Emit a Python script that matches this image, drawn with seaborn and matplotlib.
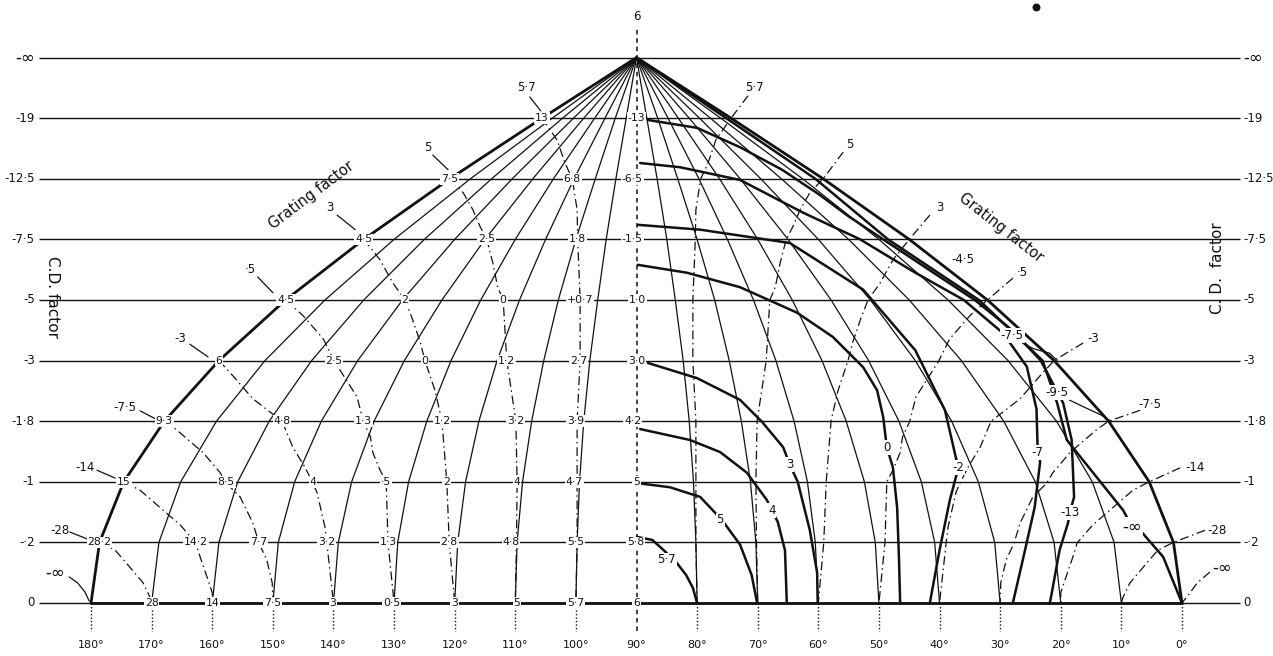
import matplotlib
matplotlib.use("Agg")
import matplotlib.pyplot as plt
import seaborn as sns
import pandas as pd

sns.set_theme(style="white")
plt.rcParams['font.family'] = ['DejaVu Sans']

# ---- C.D. factor rows (equally spaced) ----
row_levels = [0, 1, 2, 3, 4, 5, 6, 7, 8, 9]
row_labels = ["0", "-·2", "-1", "-1·8", "-3", "-5", "-7·5", "-12·5", "-19", "-∞"]

# ---- angle scale along the base ----
angles = [180, 170, 160, 150, 140, 130, 120, 110, 100, 90, 80, 70, 60, 50, 40, 30, 20, 10, 0]
angle_labels = [f"{a}°" for a in angles]

# ---- angle curves (x in degrees at each row 0..9) ----
left_angle_curves = {
    180: [180, 178.6, 174.6, 167.9, 158.9, 147.9, 135.0, 120.8, 105.6, 90],
    170: [170, 168.8, 165.2, 159.3, 151.3, 141.4, 130.0, 117.4, 103.9, 90],
    160: [160, 158.9, 155.8, 150.6, 143.6, 135.0, 125.0, 113.9, 102.2, 90],
    150: [150, 149.1, 146.4, 142.0, 136.0, 128.6, 120.0, 110.5, 100.4, 90],
    140: [140, 139.2, 137.0, 133.3, 128.3, 122.1, 115.0, 107.1, 98.7, 90],
    130: [130, 129.4, 127.6, 124.6, 120.6, 115.7, 110.0, 103.7, 96.9, 90],
    120: [120, 119.5, 118.2, 116.0, 113.0, 109.3, 105.0, 100.3, 95.2, 90],
    110: [110, 109.7, 108.8, 107.3, 105.3, 102.9, 100.0, 96.8, 93.5, 90],
    100: [100, 99.8, 99.4, 98.7, 97.7, 96.4, 95.0, 93.4, 91.7, 90],
}
right_angle_curves = {
    0: [0, 1.4, 5.4, 12.1, 21.1, 32.1, 45.0, 59.2, 74.4, 90],
    10: [10, 11.2, 14.8, 20.7, 28.7, 38.6, 50.0, 62.6, 76.1, 90],
    20: [20, 21.1, 24.2, 29.4, 36.4, 45.0, 55.0, 66.1, 77.8, 90],
    30: [30, 30.9, 33.6, 38.0, 44.0, 51.4, 60.0, 69.5, 79.6, 90],
    40: [40, 40.8, 43.0, 46.7, 51.7, 57.9, 65.0, 72.9, 81.3, 90],
    50: [50, 50.6, 52.4, 55.4, 59.4, 64.3, 70.0, 76.3, 83.1, 90],
    60: [60, 60.5, 61.8, 64.0, 67.0, 70.7, 75.0, 79.7, 84.8, 90],
    70: [70, 70.3, 71.2, 72.7, 74.7, 77.1, 80.0, 83.2, 86.5, 90],
    80: [80, 80.2, 80.6, 81.3, 82.3, 83.6, 85.0, 86.6, 88.3, 90],
}

# ---- grating-factor curves, left half: (x list, row list) ----
left_grating = {
    100: ([105.6, 103.1, 101.8, 100.6, 99.8, 99.7, 99.3, 99.3, 99.8, 99.8, 99.8, 100.0],
          [8, 7.64, 7.26, 7, 6.49, 6, 5, 4, 3, 2, 1, 0]),
    110: ([120.8, 118.6, 117.0, 115.8, 114.7, 113.7, 112.9, 112.0, 111.4, 109.9, 109.7, 109.8, 110.0],
          [7, 6.77, 6.49, 6.21, 6, 5.61, 5.21, 5, 4, 3, 2, 1, 0]),
    120: ([135.0, 132.3, 130.2, 128.2, 127.0, 125.7, 124.9, 123.2, 122.1, 121.3, 120.9, 120.0],
          [6, 5.66, 5.28, 5, 4.69, 4.31, 4, 3.49, 3, 2, 1, 0]),
    130: ([147.9, 145.0, 141.7, 139.9, 138.9, 136.1, 135.1, 133.9, 133.5, 132.3, 131.3, 131.0, 130.0],
          [5, 4.74, 4.36, 4, 3.84, 3.40, 3, 2.74, 2.48, 2.19, 2, 1, 0]),
    140: ([158.9, 156.6, 153.3, 148.5, 146.7, 144.7, 143.4, 142.7, 141.4, 141.1, 140.0],
          [4, 3.75, 3.37, 3, 2.57, 2.24, 1.98, 1.82, 1.25, 1, 0]),
    150: ([167.9, 165.8, 161.5, 158.7, 157.7, 155.4, 153.3, 152.3, 151.0, 150.1, 150.0],
          [3, 2.85, 2.48, 2.15, 1.98, 1.75, 1.32, 0.99, 0.71, 0.33, 0]),
    160: ([174.6, 171.9, 168.1, 165.3, 162.7, 162.0, 160.7, 160.0, 160.0],
          [2, 1.86, 1.53, 1.29, 0.99, 0.76, 0.38, 0.17, 0]),
    170: ([178.6, 176.0, 173.6, 171.4, 170.3, 170.0],
          [1, 0.87, 0.59, 0.33, 0.10, 0]),
}

# ---- grating-factor curves, right half (run out to their labels) ----
right_grating = {
    80: ([71.6, 74.4, 76.9, 78.2, 79.4, 80.2, 80.3, 80.7, 80.7, 80.2, 80.2, 80.2, 80.0],
         [8.37, 8, 7.64, 7.26, 7, 6.49, 6, 5, 4, 3, 2, 1, 0]),
    70: ([55.9, 59.2, 61.4, 63.0, 64.2, 65.3, 66.3, 67.1, 68.0, 68.6, 70.1, 70.3, 70.2, 70.0],
         [7.44, 7, 6.77, 6.49, 6.21, 6, 5.61, 5.21, 5, 4, 3, 2, 1, 0]),
    60: ([41.6, 45.0, 47.7, 49.8, 51.8, 53.0, 54.3, 55.1, 56.8, 57.9, 58.7, 59.1, 60.0],
         [6.40, 6, 5.66, 5.28, 5, 4.69, 4.31, 4, 3.49, 3, 2, 1, 0]),
    50: ([27.9, 32.1, 35.0, 38.3, 40.1, 41.1, 43.9, 44.9, 46.1, 46.5, 47.7, 48.7, 49.0, 50.0],
         [5.36, 5, 4.74, 4.36, 4, 3.84, 3.40, 3, 2.74, 2.48, 2.19, 2, 1, 0]),
    40: ([16.3, 21.1, 23.4, 26.7, 31.5, 33.3, 35.3, 36.6, 37.3, 38.6, 38.9, 40.0],
         [4.29, 4, 3.75, 3.37, 3, 2.57, 2.24, 1.98, 1.82, 1.25, 1, 0]),
    30: ([6.9, 12.1, 14.2, 18.5, 21.3, 22.3, 24.6, 26.7, 27.7, 29.0, 29.9, 30.0],
         [3.18, 3, 2.85, 2.48, 2.15, 1.98, 1.75, 1.32, 0.99, 0.71, 0.33, 0]),
    20: ([0.3, 5.4, 8.1, 11.9, 14.7, 17.3, 18.0, 19.3, 20.0, 20.0],
         [2.23, 2, 1.86, 1.53, 1.29, 0.99, 0.76, 0.38, 0.17, 0]),
    10: ([-3.8, 1.4, 4.0, 6.4, 8.6, 9.7, 10.0],
         [1.20, 1, 0.87, 0.59, 0.33, 0.10, 0]),
    0: ([-4.6, -2.5, -1.2, 0.0],
        [0.51, 0.33, 0.15, 0]),
}

# ---- C.D. contours on the right half: (x list, row list) ----
cd_contours = {
    "5·7": ([89.9, 87.4, 85.5, 83.5, 81.8, 80.7, 80.0],
            [1.09, 1.04, 0.87, 0.68, 0.46, 0.25, 0]),
    "5": ([90.0, 84.5, 79.5, 75.9, 72.9, 71.0, 70.1],
          [1.98, 1.91, 1.75, 1.37, 0.96, 0.46, 0]),
    "4": ([89.4, 81.2, 76.2, 71.8, 68.5, 67.7, 66.7, 65.5, 65.2],
          [2.87, 2.69, 2.49, 2.15, 1.70, 1.53, 1.34, 0.87, 0]),
    "3": ([88.1, 80.0, 72.9, 69.3, 65.8, 64.7, 63.4, 61.4, 60.2, 60.1],
          [3.96, 3.71, 3.35, 2.99, 2.57, 2.28, 2.0, 1.2, 0.5, 0]),
    "0": ([89.8, 81.7, 72.9, 63.5, 57.6, 52.6, 50.3, 49.3, 48.7, 47.7, 47.0, 46.7, 46.5],
          [5.58, 5.45, 5.21, 4.79, 4.39, 3.89, 3.51, 3.07, 2.57, 2.24, 1.58, 0.76, 0]),
    "-2": ([89.75, 79.5, 64.7, 52.6, 44.0, 39.1, 37.4, 36.9, 38.3, 40.0, 41.6],
           [6.24, 6.16, 5.94, 5.17, 4.17, 3.18, 2.44, 2.23, 1.70, 0.87, 0]),
    "-7": ([89.4, 82.8, 72.9, 62.5, 53.1, 44.0, 36.0, 29.5, 25.6, 24.0, 23.8, 23.4, 24.3, 25.9, 27.9],
           [7.26, 7.19, 6.98, 6.44, 6.0, 5.45, 5.0, 4.45, 3.9, 3.2, 2.49, 2.33, 1.58, 0.87, 0]),
    "-13": ([88.1, 80.0, 72.9, 66.0, 60.0, 55.0, 49.3, 41.0, 34.2, 28.0, 23.3, 19.6, 18.2, 17.8, 18.5,
             18.8, 20.2, 21.4, 21.8],
            [7.97, 7.84, 7.52, 7.15, 6.75, 6.38, 6.0, 5.45, 5.0, 4.5, 4.0, 3.3, 2.69, 1.75, 1.49,
             1.32, 0.87, 0.21, 0]),
    "-∞": ([90.0, 75.2, 60.5, 48.5, 33.5, 23.0, 20.6, 19.0, 9.7, 8.2, 6.9, 3.1, 0.0],
           [9.0, 8.0, 7.0, 6.0, 5.0, 4.0, 3.3, 2.69, 1.53, 1.25, 1.2, 0.76, 0]),
}
cd_contour_labels = [
    ("5·7", 85.0, 0.71), ("5", 76.2, 1.37), ("4", 67.7, 1.53), ("3", 64.7, 2.28),
    ("0", 48.7, 2.57), ("-2", 36.9, 2.23), ("-7", 23.8, 2.49), ("-13", 18.5, 1.49),
    ("-∞", 8.2, 1.25), ("-4·5", 36.1, 5.66), ("-7·5", 28.0, 4.42), ("-9·5", 20.6, 3.47),
]

# ---- values printed where the curves cross the rows (left half) ----
crossing_labels = [
    # along 90°
    (90.0, 0, "6"), (90.1, 1, "5·8"), (90.0, 2, "5"), (90.6, 3, "4·2"), (90.0, 4, "3·0"),
    (89.8, 5, "1·0"), (90.7, 6, "-1·5"), (90.7, 7, "-6·5"), (90.0, 8, "-13"),
    # along the outer curve
    (178.6, 1, "28·2"), (174.6, 2, "15"), (167.9, 3, "9·3"), (158.9, 4, "6"),
    (147.9, 5, "4·5"), (135.0, 6, "4·5"), (120.8, 7, "7·5"), (105.6, 8, "13"),
    # 100° curve
    (100.0, 0, "5·7"), (100.1, 1, "5·5"), (100.3, 2, "4·7"), (100.1, 3, "3·9"),
    (99.5, 4, "2·7"), (99.3, 5, "+0·7"), (99.7, 6, "1·8"), (100.6, 7, "6·8"),
    # 110° curve
    (109.7, 0, "5"), (110.7, 1, "4·8"), (109.7, 2, "4"), (109.9, 3, "3·2"),
    (111.4, 4, "1·2"), (112.0, 5, "0"), (114.7, 6, "2·5"),
    # 120° curve
    (120.0, 0, "3"), (120.9, 1, "2·8"), (121.3, 2, "2"), (122.1, 3, "1·2"),
    (124.9, 4, "0"), (128.2, 5, "2"),
    # 130° curve
    (130.4, 0, "0·5"), (131.0, 1, "1·3"), (131.3, 2, "·5"), (135.1, 3, "1·3"), (139.9, 4, "2·5"),
    # 140° curve
    (140.1, 0, "3"), (141.1, 1, "3·2"), (143.4, 2, "4"), (148.5, 3, "4·8"),
    # 150°, 160°, 170°
    (150.0, 0, "7·5"), (152.3, 1, "7·7"), (157.7, 2, "8·5"),
    (160.0, 0, "14"), (162.7, 1, "14·2"),
    (170.0, 0, "28"),
]

# ---- grating-factor names with their leaders (left) ----
left_names = [
    ("5·7", 108.1, 8.50, [107.6, 105.8], [8.35, 8.12]),
    ("5", 124.4, 7.51, [123.6, 121.1], [7.39, 7.15]),
    ("3", 140.6, 6.52, [139.4, 136.4], [6.40, 6.16]),
    ("·5", 153.8, 5.50, [152.5, 150.0], [5.38, 5.12]),
    ("-3", 165.3, 4.37, [163.7, 160.7], [4.27, 4.06]),
    ("-7·5", 174.4, 3.23, [171.9, 169.4], [3.17, 3.04]),
    ("-14", 181.0, 2.24, [179.0, 176.0], [2.19, 2.06]),
    ("-28", 185.1, 1.20, [183.5, 180.2], [1.17, 1.04]),
    ("-∞", 186.0, 0.50, [183.6, 182.2, 181.0, 180.3], [0.43, 0.33, 0.18, 0.03]),
]
right_names = [
    ("5·7", 70.5, 8.50), ("5", 54.8, 7.56), ("3", 39.9, 6.52), ("·5", 26.4, 5.46),
    ("-3", 14.7, 4.37), ("-7·5", 5.3, 3.27), ("-14", -2.2, 2.23), ("-28", -5.8, 1.20),
    ("-∞", -6.6, 0.58),
]
leaders_right = [
    ([27.2, 24.6, 21.8, 20.6], [4.34, 4.20, 4.12, 4.00]),
    ([18.6, 16.1, 13.3, 11.6], [3.35, 3.23, 3.10, 2.99]),
]

BLACK = "#111111"
fig = plt.figure(figsize=(12.73, 6.56), dpi=100)
ax = fig.add_axes([0, 0, 1, 1])
ax.set_xlim(195.02, -15.02)
ax.set_ylim(-0.875, 9.95)
ax.axis("off")

TXT = dict(color=BLACK, ha="center", va="center", zorder=6)
BOX = dict(boxstyle="square,pad=0.08", fc="white", ec="none")


def fsize(label, base):
    # the infinity sign is drawn wide, as on the printed scale
    return base + 3.5 if "∞" in label else base


def draw(xs, ys, lw=0.9, ls="-", dashes=None, z=3):
    df = pd.DataFrame({"x": xs, "y": ys})
    kw = dict(color=BLACK, linewidth=lw, zorder=z)
    if dashes is not None:
        kw["dashes"] = dashes
    else:
        kw["linestyle"] = ls
    sns.lineplot(data=df, x="x", y="y", sort=False, estimator=None, ax=ax, **kw)


# rows
for lv in row_levels:
    ax.plot([188.6, -9.6], [lv, lv], color=BLACK, lw=1.0, zorder=2, solid_capstyle="butt")
ax.plot([180, 0], [0, 0], color=BLACK, lw=2.0, zorder=2)
for lv, lab in zip(row_levels, row_labels):
    ax.text(189.3, lv, lab, fontsize=fsize(lab, 8.5), ha="right", va="center", color=BLACK)
    ax.text(-10.1, lv, lab, fontsize=fsize(lab, 8.5), ha="left", va="center", color=BLACK)

# base ticks and angle labels
for a, lab in zip(angles, angle_labels):
    if a != 90:
        ax.plot([a, a], [0, -0.47], color=BLACK, lw=1.0, ls=(0, (1, 1.5)), zorder=2)
    ax.text(a, -0.70, lab, fontsize=8, **TXT)
ax.plot([90, 90], [-0.47, 9.52], color=BLACK, lw=1.1, ls=(0, (3, 2.5)), zorder=2)
ax.text(90, 9.68, "6", fontsize=8.5, **TXT)

# angle curves
for a, xs in left_angle_curves.items():
    draw(xs, row_levels, lw=2.0 if a == 180 else 0.9)
for a, xs in right_angle_curves.items():
    draw(xs, row_levels, lw=2.0 if a == 0 else 0.9)

# grating-factor curves
for a, (xs, ys) in left_grating.items():
    draw(xs, ys, lw=0.9, dashes=(7, 3, 1.2, 3))
for a, (xs, ys) in right_grating.items():
    draw(xs, ys, lw=0.9, dashes=(7, 3, 1.2, 3))

# C.D. contours
for name, (xs, ys) in cd_contours.items():
    draw(xs, ys, lw=1.8)
for lab, x, y in cd_contour_labels:
    ax.text(x, y, lab, fontsize=fsize(lab, 8.5), bbox=BOX, **TXT)
for xs, ys in leaders_right:
    draw(xs, ys, lw=0.9)

# crossing values
for x, y, lab in crossing_labels:
    ax.text(x, y, lab, fontsize=7.8, bbox=BOX, **TXT)

# curve names
for lab, x, y, lx, ly in left_names:
    ax.text(x, y, lab, fontsize=fsize(lab, 8.5), **TXT)
    draw(lx, ly, lw=0.9)
for lab, x, y in right_names:
    ax.text(x, y, lab, fontsize=fsize(lab, 8.5), **TXT)

# titles along the scales
ax.text(143.7, 6.73, "Grating factor", fontsize=10.5, rotation=37, **TXT)
ax.text(29.9, 6.20, "Grating factor", fontsize=10.5, rotation=-38, **TXT)
ax.text(186.4, 5.05, "C.D. factor", fontsize=11, rotation=-90, **TXT)
ax.text(-5.8, 5.53, "C. D.  factor", fontsize=11, rotation=90, **TXT)

# stray ink dot
ax.scatter([24.1], [9.83], s=22, color=BLACK, zorder=6)

fig.savefig("out.png", dpi=100)
